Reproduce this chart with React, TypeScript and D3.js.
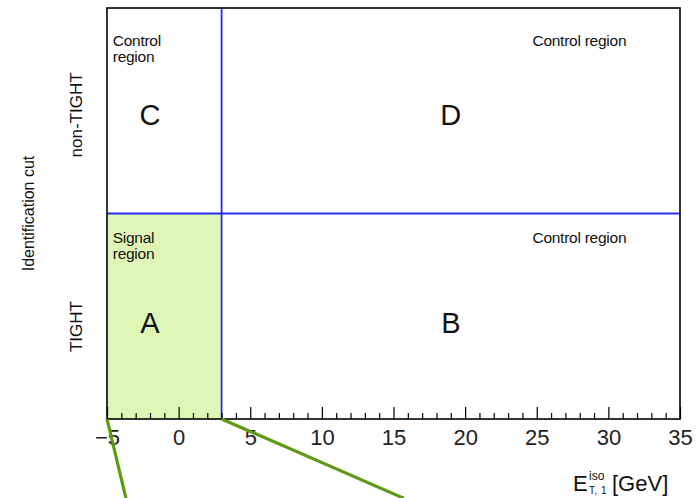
import React, { useEffect, useRef } from 'react';
import * as d3 from 'd3';

const width = 697;
const height = 498;
const margin = { top: 8, right: 17, bottom: 79, left: 107 };

// x axis: isolation energy, y axis: identification cut (0 = TIGHT, 1 = non-TIGHT)
const xDomain = [-5, 35];
const yDomain = [0, 2];
const majorTicks = [-5, 0, 5, 10, 15, 20, 25, 30, 35];
const minorTicks = d3.range(-5, 36, 1).filter(v => v % 5 !== 0);
const isoCut = 3;
const idCut = 1;

const cellLetters = ['A', 'B', 'C', 'D'];
const letterX = [-2, 19, -2, 19];
const letterY = [0.47, 0.47, 1.48, 1.48];

const noteLines = [['Signal', 'region'], ['Control region'], ['Control', 'region'], ['Control region']];
const noteX = [-4.6, 24.7, -4.6, 24.7];
const noteY = [0.856, 0.856, 1.815, 1.815];

const yCategories = ['TIGHT', 'non-TIGHT'];
const yCategoryPos = [0.45, 1.48];

// zoom connector lines leaving the plot (start, end in data units)
const connStartX = [-5, 3];
const connEndX = [-3.68, 15.7];
const connEndY = -0.385;

const font = 'Liberation Sans, Arial, Helvetica, sans-serif';

const App = () => {
  const svgRef = useRef<SVGSVGElement>(null);

  useEffect(() => {
    const svg = d3.select(svgRef.current);
    svg.selectAll('*').remove();

    const x = d3.scaleLinear().domain(xDomain).range([margin.left, width - margin.right]);
    const y = d3.scaleLinear().domain(yDomain).range([height - margin.bottom, margin.top]);

    // signal region fill
    svg.append('rect')
      .attr('x', x(xDomain[0]))
      .attr('y', y(idCut))
      .attr('width', x(isoCut) - x(xDomain[0]))
      .attr('height', y(yDomain[0]) - y(idCut))
      .attr('fill', '#def7b6');

    // cut lines
    svg.append('line')
      .attr('x1', x(isoCut)).attr('x2', x(isoCut))
      .attr('y1', y(yDomain[0])).attr('y2', y(yDomain[1]))
      .attr('stroke', '#2a2af6').attr('stroke-width', 1.8);
    svg.append('line')
      .attr('x1', x(xDomain[0])).attr('x2', x(xDomain[1]))
      .attr('y1', y(idCut)).attr('y2', y(idCut))
      .attr('stroke', '#2a2af6').attr('stroke-width', 1.8);

    // minor ticks
    svg.append('g')
      .attr('transform', `translate(0,${y(yDomain[0])})`)
      .call(d3.axisBottom(x).tickValues(minorTicks).tickSize(-6).tickFormat(() => ''))
      .call(g => g.select('.domain').remove())
      .selectAll('line').attr('stroke', '#000').attr('stroke-width', 1.2);

    // major ticks with labels
    const ax = svg.append('g')
      .attr('transform', `translate(0,${y(yDomain[0])})`)
      .call(d3.axisBottom(x).tickValues(majorTicks).tickSize(-12).tickPadding(10).tickFormat(d3.format('d')));
    ax.select('.domain').remove();
    ax.selectAll('line').attr('stroke', '#000').attr('stroke-width', 1.2);
    ax.selectAll('text')
      .attr('font-family', font)
      .attr('font-size', 22)
      .attr('fill', '#222');

    // frame
    svg.append('rect')
      .attr('x', x(xDomain[0]))
      .attr('y', y(yDomain[1]))
      .attr('width', x(xDomain[1]) - x(xDomain[0]))
      .attr('height', y(yDomain[0]) - y(yDomain[1]))
      .attr('fill', 'none')
      .attr('stroke', '#000')
      .attr('stroke-width', 1.6);

    // connector lines
    connStartX.forEach((sx, i) => {
      svg.append('line')
        .attr('x1', x(sx)).attr('y1', y(yDomain[0]))
        .attr('x2', x(connEndX[i])).attr('y2', y(connEndY))
        .attr('stroke', '#5e9a14')
        .attr('stroke-width', 3.2);
    });

    // cell letters
    cellLetters.forEach((l, i) => {
      svg.append('text')
        .attr('x', x(letterX[i]))
        .attr('y', y(letterY[i]))
        .attr('dy', '0.36em')
        .attr('text-anchor', 'middle')
        .attr('font-family', font)
        .attr('font-size', 29)
        .attr('fill', '#111')
        .text(l);
    });

    // region notes
    noteLines.forEach((lines, i) => {
      const t = svg.append('text')
        .attr('font-family', font)
        .attr('font-size', 15.5)
        .attr('letter-spacing', -0.25)
        .attr('fill', '#111');
      lines.forEach((s, j) => {
        t.append('tspan')
          .attr('x', x(noteX[i]))
          .attr('y', y(noteY[i]) + j * 16)
          .text(s);
      });
    });

    // y category labels
    yCategories.forEach((c, i) => {
      svg.append('text')
        .attr('transform', `translate(82,${y(yCategoryPos[i])}) rotate(-90)`)
        .attr('text-anchor', 'middle')
        .attr('font-family', font)
        .attr('font-size', 17)
        .attr('fill', '#111')
        .text(c);
    });

    svg.append('text')
      .attr('transform', `translate(34,${(y(yDomain[0]) + y(yDomain[1])) / 2}) rotate(-90)`)
      .attr('text-anchor', 'middle')
      .attr('font-family', font)
      .attr('font-size', 16)
      .attr('fill', '#111')
      .text('Identification cut');

    // x axis title
    const title = svg.append('text')
      .attr('x', 573)
      .attr('y', 491)
      .attr('font-family', font)
      .attr('fill', '#111');
    title.append('tspan').attr('font-size', 22).text('E');
    title.append('tspan').attr('font-size', 12).attr('x', 589).attr('dy', -11).text('iso');
    title.append('tspan').attr('font-size', 10).attr('x', 589).attr('dy', 14).attr('letter-spacing', 0.5).text('T, 1');
    title.append('tspan').attr('font-size', 22).attr('x', 612).attr('dy', -3).text('[GeV]');
  }, []);

  return <svg ref={svgRef} width={width} height={height} style={{ display: 'block', position: 'absolute', left: 0, top: 0 }}></svg>;
};

export default App;
